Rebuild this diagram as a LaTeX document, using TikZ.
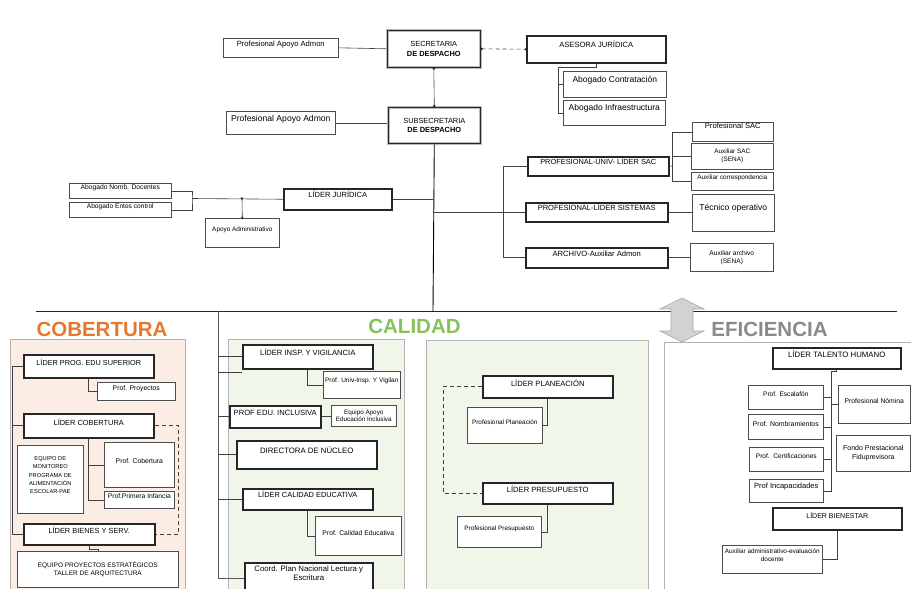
\documentclass[tikz,border=0pt]{standalone}
\usepackage{fontspec}
\setmainfont{Liberation Sans}
\usetikzlibrary{arrows.meta}
\definecolor{cobfill}{HTML}{FBEDE4}
\definecolor{calfill}{HTML}{F0F6EA}
\definecolor{orangeT}{HTML}{E8772E}
\definecolor{greenT}{HTML}{86C25A}
\definecolor{grayT}{HTML}{8A8A8A}
\newcommand{\obx}[8][]{\pgfmathsetmacro\myBw{#6-#4}\pgfmathsetmacro\myBh{#7-#5}\node[#2,anchor=north west,minimum width=\myBw pt,minimum height=\myBh pt,#1] (#3) at (#4,#5) {#8};}
\begin{document}
\begin{tikzpicture}[x=1pt,y=-1pt,
 bx/.style={draw=black!70,line width=0.6pt,fill=white,align=center,inner xsep=0.5pt,text=black},
 ld/.style={draw=black!85,line width=1.5pt,fill=white,align=center,inner xsep=0.5pt,text=black},
 sd/.style={draw=gray!55,line width=2.6pt,fill=white,align=center,text=black},
 cn/.style={draw=black!75,line width=0.6pt},
 ds/.style={draw=black!75,line width=0.6pt,dash pattern=on 4pt off 3pt},
 dot/.style={fill=black!85},
 fs/.style 2 args={font=\fontsize{#1}{#2}\selectfont},
 tt/.style={inner ysep=0pt,text height=#1pt,/utils/exec={\pgfmathsetmacro\myBd{\myBh-#1}},text depth=\myBd pt},
 title/.style={anchor=base,font=\fontsize{20.5}{24}\selectfont\bfseries}]
\useasboundingbox (0,0) rectangle (911,589);
\clip (0,0) rectangle (911,589);
% panels
\draw[draw=gray!60,fill=cobfill] (10,339) rectangle (185,600);
\draw[draw=gray!60,fill=calfill] (228,339) rectangle (404,600);
\draw[draw=gray!60,fill=calfill] (426,340) rectangle (648,600);
\draw[draw=gray!60,fill=white] (664,342) rectangle (920,600);
% main horizontal line
\coordinate (hl) at (36,311); \coordinate (hr) at (897,311);
\coordinate (mv) at (433,311); \coordinate (jH) at (218,311);
\draw[black!85,line width=0.8pt] (hl) -- (hr);
% titles
\node[title,text=orangeT] (tcob) at (102,336) {COBERTURA};
\node[title,text=greenT] (tcal) at (414.5,333) {CALIDAD};
\node[title,text=grayT] (tefi) at (769.5,336) {EFICIENCIA};
% top
\obx[fs={7.6}{9},tt=8]{bx}{apoyoA}{223}{38}{338}{57}{Profesional Apoyo Admon}
\obx[fs={7.4}{9.5}]{sd}{secre}{386}{29}{479}{66}{SECRETARIA\\\textbf{DE DESPACHO}}
\draw[black!85,line width=0.6pt] ([shift={(1.6,1.6)}]secre.north west) rectangle ([shift={(-1.6,-1.6)}]secre.south east);
\obx[fs={7.6}{9},tt=12]{ld}{asesora}{526}{35}{665}{62}{ASESORA JURÍDICA}
\obx[fs={8.5}{10},tt=11]{bx}{abcont}{563}{71}{666}{97}{Abogado Contratación}
\obx[fs={8.5}{10},tt=10]{bx}{abinf}{563}{100}{665}{125}{Abogado Infraestructura}
\obx[fs={7.4}{9.5}]{sd}{subsec}{387}{106}{479}{142}{SUBSECRETARIA\\\textbf{DE DESPACHO}}
\draw[black!85,line width=0.6pt] ([shift={(1.6,1.6)}]subsec.north west) rectangle ([shift={(-1.6,-1.6)}]subsec.south east);
\obx[fs={8.6}{10},tt=10]{bx}{apoyoB}{226}{111}{335}{134}{Profesional Apoyo Admon}
% right
\obx[fs={7.4}{9},tt=8]{ld}{sac}{527}{156}{668}{175}{PROFESIONAL-UNIV- LÍDER SAC}
\obx[fs={7.5}{9},tt=8]{ld}{sist}{525}{202}{667}{221}{PROFESIONAL-LÍDER SISTEMAS}
\obx[fs={7.6}{9},tt=8.5]{ld}{arch}{525}{247}{667}{267}{ARCHIVO-Auxiliar Admon}
\obx[fs={7.6}{9},tt=6.5]{bx}{psac}{692}{122}{773}{141}{Profesional SAC}
\obx[fs={6.4}{8}]{bx}{auxsac}{691}{143}{773}{169}{Auxiliar SAC\\(SENA)}
\obx[fs={6.4}{8},tt=7.5]{bx}{auxcor}{691}{172}{773}{190}{Auxiliar correspondencia}
\obx[fs={8.6}{10},tt=16]{bx}{tecn}{692}{194}{774}{231}{Técnico operativo}
\obx[fs={6.6}{8}]{bx}{auxarch}{690}{243}{773}{271}{Auxiliar archivo\\(SENA)}
% left middle
\obx[fs={6.7}{8},tt=6.5]{bx}{abnomb}{69}{183}{171}{198}{Abogado Nomb. Docentes}
\obx[fs={6.6}{8},tt=6.5]{bx}{abentes}{69}{202}{171}{217}{Abogado Entes control}
\obx[fs={7.5}{9},tt=8.5]{ld}{ljur}{283}{188}{391}{209}{LÍDER JURÍDICA}
\obx[fs={6.4}{8},tt=13]{bx}{apadm}{205}{218}{279}{247}{Apoyo Administrativo}
% COBERTURA
\obx[fs={7.3}{9},tt=11]{ld}{lps}{23}{354}{153}{377}{LÍDER PROG. EDU SUPERIOR}
\obx[fs={6.8}{8},tt=8.5]{bx}{proy}{97}{382}{175}{400}{Prof. Proyectos}
\obx[fs={7.4}{9},tt=12]{ld}{lcob}{23}{413}{153}{437}{LÍDER COBERTURA}
\obx[fs={5.7}{8.3}]{bx}{eqmon}{17}{445}{83}{513}{EQUIPO DE\\MONITOREO\\PROGRAMA DE\\ALIMENTACIÓN\\ESCOLAR-PAE\\\mbox{}}
\obx[fs={6.8}{8},tt=21]{bx}{pcob}{104}{442}{174}{487}{Prof. Cobertura}
\obx[fs={6.7}{8},tt=7.5]{bx}{ppi}{104}{491}{174}{508}{Prof.Primera Infancia}
\obx[fs={7.4}{9},tt=10]{ld}{lbs}{23}{523}{154}{544}{LÍDER BIENES Y SERV.}
\obx[fs={6.5}{8.5}]{bx}{eqproy}{17}{551}{178}{587}{EQUIPO PROYECTOS ESTRATÉGICOS\\TALLER DE ARQUITECTURA}
% CALIDAD left
\obx[fs={7.6}{9},tt=11]{ld}{linsp}{242}{344}{372}{368}{LÍDER INSP. Y VIGILANCIA}
\obx[fs={6.5}{8},tt=11]{bx}{puiv}{323}{371}{400}{398}{Prof. Univ-Insp. Y Vigilan}
\obx[fs={7.6}{9},tt=10]{ld}{pei}{229}{405}{320}{427}{PROF EDU. INCLUSIVA}
\obx[fs={6.3}{7.5}]{bx}{eaei}{331}{405}{396}{426}{Equipo Apoyo\\Educación Inclusiva}
\obx[fs={7.8}{9},tt=13]{ld}{dn}{236}{440}{376}{468}{DIRECTORA DE NÚCLEO}
\obx[fs={7.4}{9},tt=9]{ld}{lce}{242}{488}{372}{509}{LÍDER CALIDAD EDUCATIVA}
\obx[fs={6.8}{8},tt=19]{bx}{pce}{315}{516}{401}{555}{Prof. Calidad Educativa}
\obx[fs={7.8}{9}]{ld}{cpn}{244}{562}{372}{592}{Coord. Plan Nacional Lectura y\\Escritura\\\mbox{}}
% CALIDAD right
\obx[fs={7.6}{9},tt=11]{ld}{lplan}{482}{375}{612}{397}{LÍDER PLANEACIÓN}
\obx[fs={6.4}{8},tt=17]{bx}{pplan}{467}{407}{542}{443}{Profesional Planeación}
\obx[fs={7.6}{9},tt=10]{ld}{lpres}{482}{482}{612}{503}{LÍDER PRESUPUESTO}
\obx[fs={6.4}{8},tt=14]{bx}{ppres}{457}{516}{541}{547}{Profesional Presupuesto}
% EFICIENCIA
\obx[fs={7.8}{9},tt=9.5]{ld}{lth}{772}{347}{900}{368}{LÍDER TALENTO HUMANO}
\obx[fs={6.6}{8},tt=11.5]{bx}{pesc}{748}{385}{823}{409}{Prof. Escalafón}
\obx[fs={6.9}{8},tt=12]{bx}{pnom}{748}{414}{823}{439}{Prof. Nombramientos}
\obx[fs={6.6}{8},tt=11]{bx}{pcert}{749}{447}{823}{471}{Prof.\ \ Certificaciones}
\obx[fs={7.5}{9},tt=9]{bx}{pinc}{749}{479}{823}{502}{Prof Incapacidades}
\obx[fs={6.8}{8},tt=18]{bx}{pnomina}{838}{385}{910}{423}{Profesional Nómina}
\obx[fs={7}{8.5}]{bx}{fondo}{836}{435}{910}{471}{Fondo Prestacional\\Fiduprevisora}
\obx[fs={7}{9},tt=11]{ld}{lbien}{772}{507}{901}{529}{LÍDER BIENESTAR}
\obx[fs={6.4}{8}]{bx}{auxeval}{722}{545}{822}{573}{Auxiliar administrativo-evaluación\\docente\\\mbox{}}
% connectors: top
\draw[cn] (apoyoA.east) -- (secre.west);
\draw[ds] (secre.east) -- (asesora.west);
\fill[dot] (secre.east) circle (1.4); \fill[dot] (asesora.west) circle (1.4);
\draw[cn] (secre.south) -- (subsec.north);
\fill[dot] (secre.south) circle (1.4); \fill[dot] (subsec.north) circle (1.4);
\coordinate (jA) at (558,67);
\draw[cn] (asesora.south) |- (jA) -- (jA |- abinf.west) -- (abinf.west);
\draw[cn] (jA |- abcont.west) -- (abcont.west);
\draw[cn] (apoyoB.east) -- (subsec.west |- apoyoB.east);
\draw[black,line width=0.9pt] (subsec.south) -- (mv);
% right structure
\coordinate (jD) at (503,212);
\draw[cn] (mv |- sist.west) -- (sist.west);
\draw[cn] (jD |- sac.west) -- (sac.west);
\draw[cn] (jD |- sac.west) -- (jD |- arch.west) -- (arch.west);
\coordinate (jE) at (672,166);
\draw[cn] (sac.east) -- (jE);
\draw[cn] (jE |- psac.west) -- (jE |- auxcor.west);
\draw[cn] (jE |- psac.west) -- (psac.west);
\draw[cn] (jE |- auxsac.west) -- (auxsac.west);
\draw[cn] (jE |- auxcor.west) -- (auxcor.west);
\draw[cn] (sist.east) -- (tecn.west |- sist.east);
\draw[cn] (arch.east) -- (auxarch.west |- arch.east);
% left middle
\draw[cn] (ljur.east) -- (mv |- ljur.east);
\coordinate (jC) at (192,198.5);
\draw[cn] (abnomb.east) -| (jC) |- (abentes.east);
\draw[cn] (jC) -- (ljur.west);
\coordinate (jB) at (242,198.5);
\draw[cn] (jB) -- (apadm.north);
\fill[dot] (jB) circle (1.4); \fill[dot] (apadm.north) circle (1.4);
% COBERTURA
\coordinate (jF) at (12,365.5);
\draw[cn] (lps.west) -| (jF |- lbs.west) -- (lbs.west);
\draw[cn] (jF |- lcob.west) -- (lcob.west);
\draw[cn] (lps.south) |- (proy.west);
\draw[cn] (lcob.south) |- (ppi.west);
\draw[cn] (lcob.south |- pcob.west) -- (pcob.west);
\draw[ds] (lcob.east) -- ++(24,0) |- (lbs.east);
\draw[cn] (lbs.south) -- ++(0,4) -| (eqproy.north);
% CALIDAD left
\draw[black!65,line width=0.7pt] (jH) -- (jH |- cpn.west) -- (cpn.west);
\coordinate (stub) at (242,372);
\draw[cn] (jH |- linsp.west) -- (linsp.west);
\draw[cn] (jH |- stub) -- (stub);
\draw[cn] (jH |- pei.west) -- (pei.west);
\draw[cn] (jH |- dn.west) -- (dn.west);
\draw[cn] (jH |- lce.west) -- (lce.west);
\draw[cn] (linsp.south) |- (puiv.west);
\draw[cn] (pei.east) -- ++(5,0) |- (eaei.west);
\draw[cn] (lce.south) |- (pce.west);
% CALIDAD right
\draw[cn] (lplan.south) |- (pplan.east);
\draw[cn] (lpres.south) |- (ppres.east);
\draw[ds] (lplan.west) -- ++(-39,0) |- (lpres.west);
% EFICIENCIA
\coordinate (jT) at (831,371);
\draw[cn] (lth.south) |- (jT) -- (jT |- pinc.east) -- (pinc.east);
\draw[cn] (jT |- pesc.east) -- (pesc.east);
\draw[cn] (jT |- pnom.east) -- (pnom.east);
\draw[cn] (jT |- pcert.east) -- (pcert.east);
\draw[cn] (jT |- pnomina.west) -- (pnomina.west);
\draw[cn] (lbien.south) |- (auxeval.east);
% double arrow
\draw[draw=gray!70,fill=gray!35,line width=0.6pt] (682,298) -- (704,309) -- (693,309) -- (693,331) -- (704,331) -- (682,342) -- (660,331) -- (671,331) -- (671,309) -- (660,309) -- cycle;
\end{tikzpicture}
\end{document}
